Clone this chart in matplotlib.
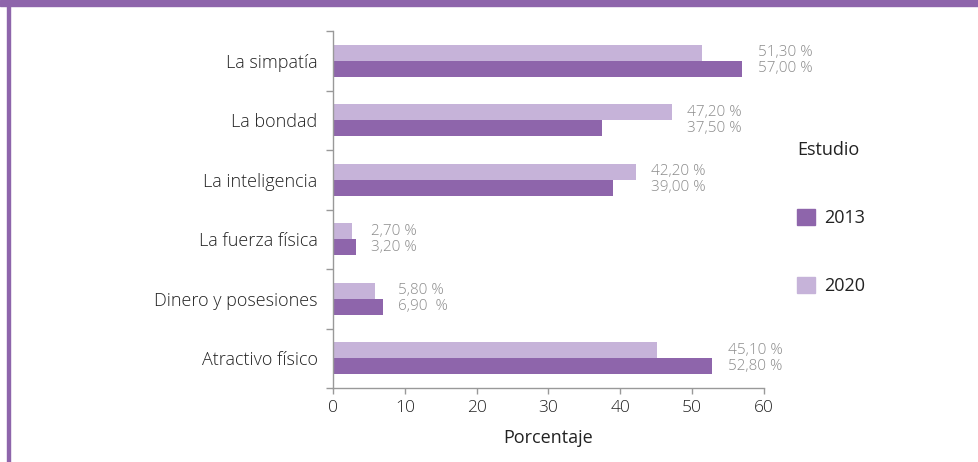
import matplotlib.pyplot as plt
from matplotlib.patches import Rectangle, Patch

plt.rcParams['font.family'] = ['Open Sans', 'DejaVu Sans']
plt.rcParams['font.weight'] = 'light'

# Datos
categorias = ['Atractivo físico', 'Dinero y posesiones', 'La fuerza física',
              'La inteligencia', 'La bondad', 'La simpatía']
valores_2013 = [52.8, 6.9, 3.2, 39.0, 37.5, 57.0]
valores_2020 = [45.1, 5.8, 2.7, 42.2, 47.2, 51.3]
etiquetas_2013 = ['52,80 %', '6,90  %', '3,20 %', '39,00 %', '37,50 %', '57,00 %']
etiquetas_2020 = ['45,10 %', '5,80 %', '2,70 %', '42,20 %', '47,20 %', '51,30 %']

color_2013 = '#8e65ab'
color_2020 = '#c6b3d9'
gris = '#999999'
gris_texto = '#8c8c8c'
texto = '#222222'

fig = plt.figure(figsize=(9.79, 4.62), dpi=100)

# Marco morado (banda superior y línea izquierda)
fig.patches.append(Rectangle((0, 1 - 6 / 462), 1, 6 / 462, transform=fig.transFigure,
                             color=color_2013, zorder=0))
fig.patches.append(Rectangle((7 / 979, 0), 3 / 979, 1, transform=fig.transFigure,
                             color=color_2013, zorder=0))

ax = fig.add_axes([333 / 979, 74 / 462, 431 / 979, 357 / 462])

pos = list(range(len(categorias)))
h = 0.27
ax.barh(pos, valores_2020, height=h, align='edge', color=color_2020, label='2020')
ax.barh(pos, valores_2013, height=-h, align='edge', color=color_2013, label='2013')

# Etiquetas de valores
for i in pos:
    x = max(valores_2013[i], valores_2020[i])
    ax.annotate(etiquetas_2020[i], (x, i + h / 2), xytext=(11, 0), textcoords='offset points',
                va='center', ha='left', fontsize=11, color=gris_texto)
    ax.annotate(etiquetas_2013[i], (x, i - h / 2), xytext=(11, 0), textcoords='offset points',
                va='center', ha='left', fontsize=11, color=gris_texto)

ax.set_xlim(0, 60)
ax.set_ylim(-0.5, 5.5)
ax.set_xticks(range(0, 61, 10))
ax.set_yticks(pos)
ax.set_yticklabels(categorias)
ax.set_yticks([p - 0.5 for p in range(len(categorias) + 1)], minor=True)
ax.tick_params(axis='y', which='major', length=0, pad=11, labelsize=13, labelcolor=texto)
ax.tick_params(axis='y', which='minor', length=5, width=1, color=gris)
ax.tick_params(axis='x', length=4, width=1, color=gris, labelsize=12.5, labelcolor=texto, pad=5)

for s in ['top', 'right']:
    ax.spines[s].set_visible(False)
for s in ['left', 'bottom']:
    ax.spines[s].set_color(gris)
    ax.spines[s].set_linewidth(1)

ax.set_xlabel('Porcentaje', fontsize=13, fontweight='normal', color=texto, labelpad=9)

handles = [Patch(color=color_2013), Patch(color=color_2020)]
leg = fig.legend(handles, ['2013', '2020'], title='Estudio', loc='upper left',
                 bbox_to_anchor=(797 / 979, 1 - 141 / 462), frameon=False,
                 prop={'size': 13, 'weight': 'normal'}, title_fontsize=13,
                 labelspacing=2.75, handlelength=1.0, handleheight=1.0, handletextpad=0.5,
                 alignment='left', borderaxespad=0, borderpad=0)
leg.get_title().set_color(texto)
leg.get_title().set_fontweight('normal')
for t in leg.get_texts():
    t.set_color(texto)

fig.savefig('out.png', dpi=100)
